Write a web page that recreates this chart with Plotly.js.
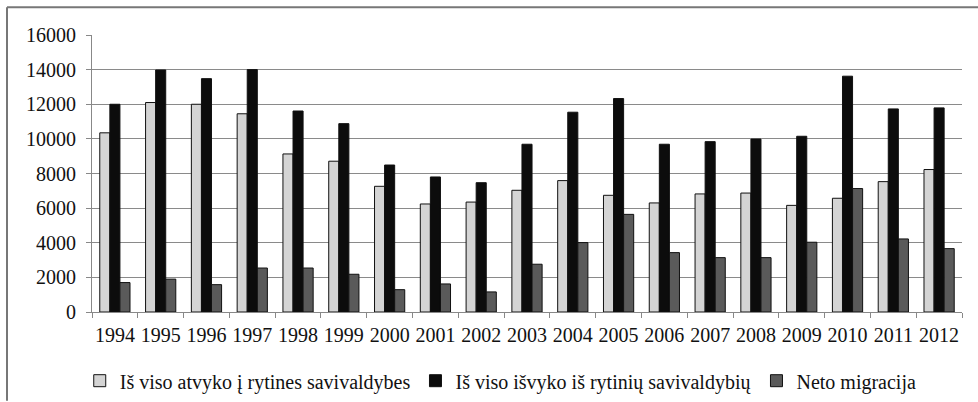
<!DOCTYPE html>
<html>
<head>
<meta charset="utf-8">
<script src="https://cdn.plot.ly/plotly-3.0.1.min.js"></script>
<style>
html,body{margin:0;padding:0;background:#fff;}
#chart{width:978px;height:402px;}
</style>
</head>
<body>
<div id="chart"></div>
<script>
const years = ["1994","1995","1996","1997","1998","1999","2000","2001","2002","2003","2004","2005","2006","2007","2008","2009","2010","2011","2012"];
const atvyko = [10350,12100,12000,11450,9130,8710,7260,6240,6350,7030,7590,6740,6300,6820,6870,6160,6570,7530,8230];
const isvyko = [12000,13980,13480,14000,11610,10880,8490,7800,7470,9690,11540,12330,9690,9840,9990,10150,13620,11730,11790];
const neto = [1700,1900,1580,2540,2540,2180,1290,1620,1160,2760,4010,5640,3430,3140,3140,4030,7130,4220,3660];
const yTicks = [0,2000,4000,6000,8000,10000,12000,14000,16000];
const names = ["Iš viso atvyko į rytines savivaldybes","Iš viso išvyko iš rytinių savivaldybių","Neto migracija"];

const line = {color:'#111', width:1};
const traces = [
  {type:'bar', x:years, y:atvyko, name:names[0], marker:{color:'#d4d4d4', line:line}},
  {type:'bar', x:years, y:isvyko, name:names[1], marker:{color:'#0c0c0c', line:line}},
  {type:'bar', x:years, y:neto, name:names[2], marker:{color:'#5a5a5a', line:line}}
];

const fam = 'Liberation Serif';

const layout = {
  width:978, height:402,
  margin:{l:92, r:16, t:35, b:90},
  paper_bgcolor:'#fff', plot_bgcolor:'#fff',
  font:{family:fam, color:'#111', size:17},
  barmode:'group', bargap:0.34, bargroupgap:0,
  showlegend:true,
  legend:{orientation:'h', xref:'container', yref:'container', x:0.512, xanchor:'center', y:0.053, yanchor:'middle',
          font:{family:fam, color:'#111', size:20}, itemwidth:30, tracegroupgap:0},
  xaxis:{type:'category', tickson:'boundaries', ticks:'outside', ticklen:5, tickcolor:'#888',
         showline:true, linecolor:'#888', linewidth:1, showgrid:false, tickangle:0, ticklabelstandoff:5,
         tickfont:{family:fam, color:'#111', size:20}, automargin:false},
  yaxis:{range:[0,16000], tickvals:yTicks, ticktext:yTicks.map(String),
         showgrid:true, gridcolor:'#8a8a8a', gridwidth:1,
         showline:true, linecolor:'#888', linewidth:1, ticks:'outside', ticklen:5, tickcolor:'#888', ticklabelstandoff:6,
         zeroline:false, tickfont:{family:fam, color:'#111', size:20}, automargin:false},
  shapes:[
    {type:'line', xref:'paper', yref:'paper', x0:-0.0977, x1:1.02, y0:1.1, y1:1.1, line:{color:'#777', width:2}},
    {type:'line', xref:'paper', yref:'paper', x0:-0.0977, x1:-0.0977, y0:1.1, y1:-0.32, line:{color:'#777', width:2}}
  ]
};

Plotly.newPlot('chart', traces, layout, {displayModeBar:false, staticPlot:true});
</script>
</body>
</html>
